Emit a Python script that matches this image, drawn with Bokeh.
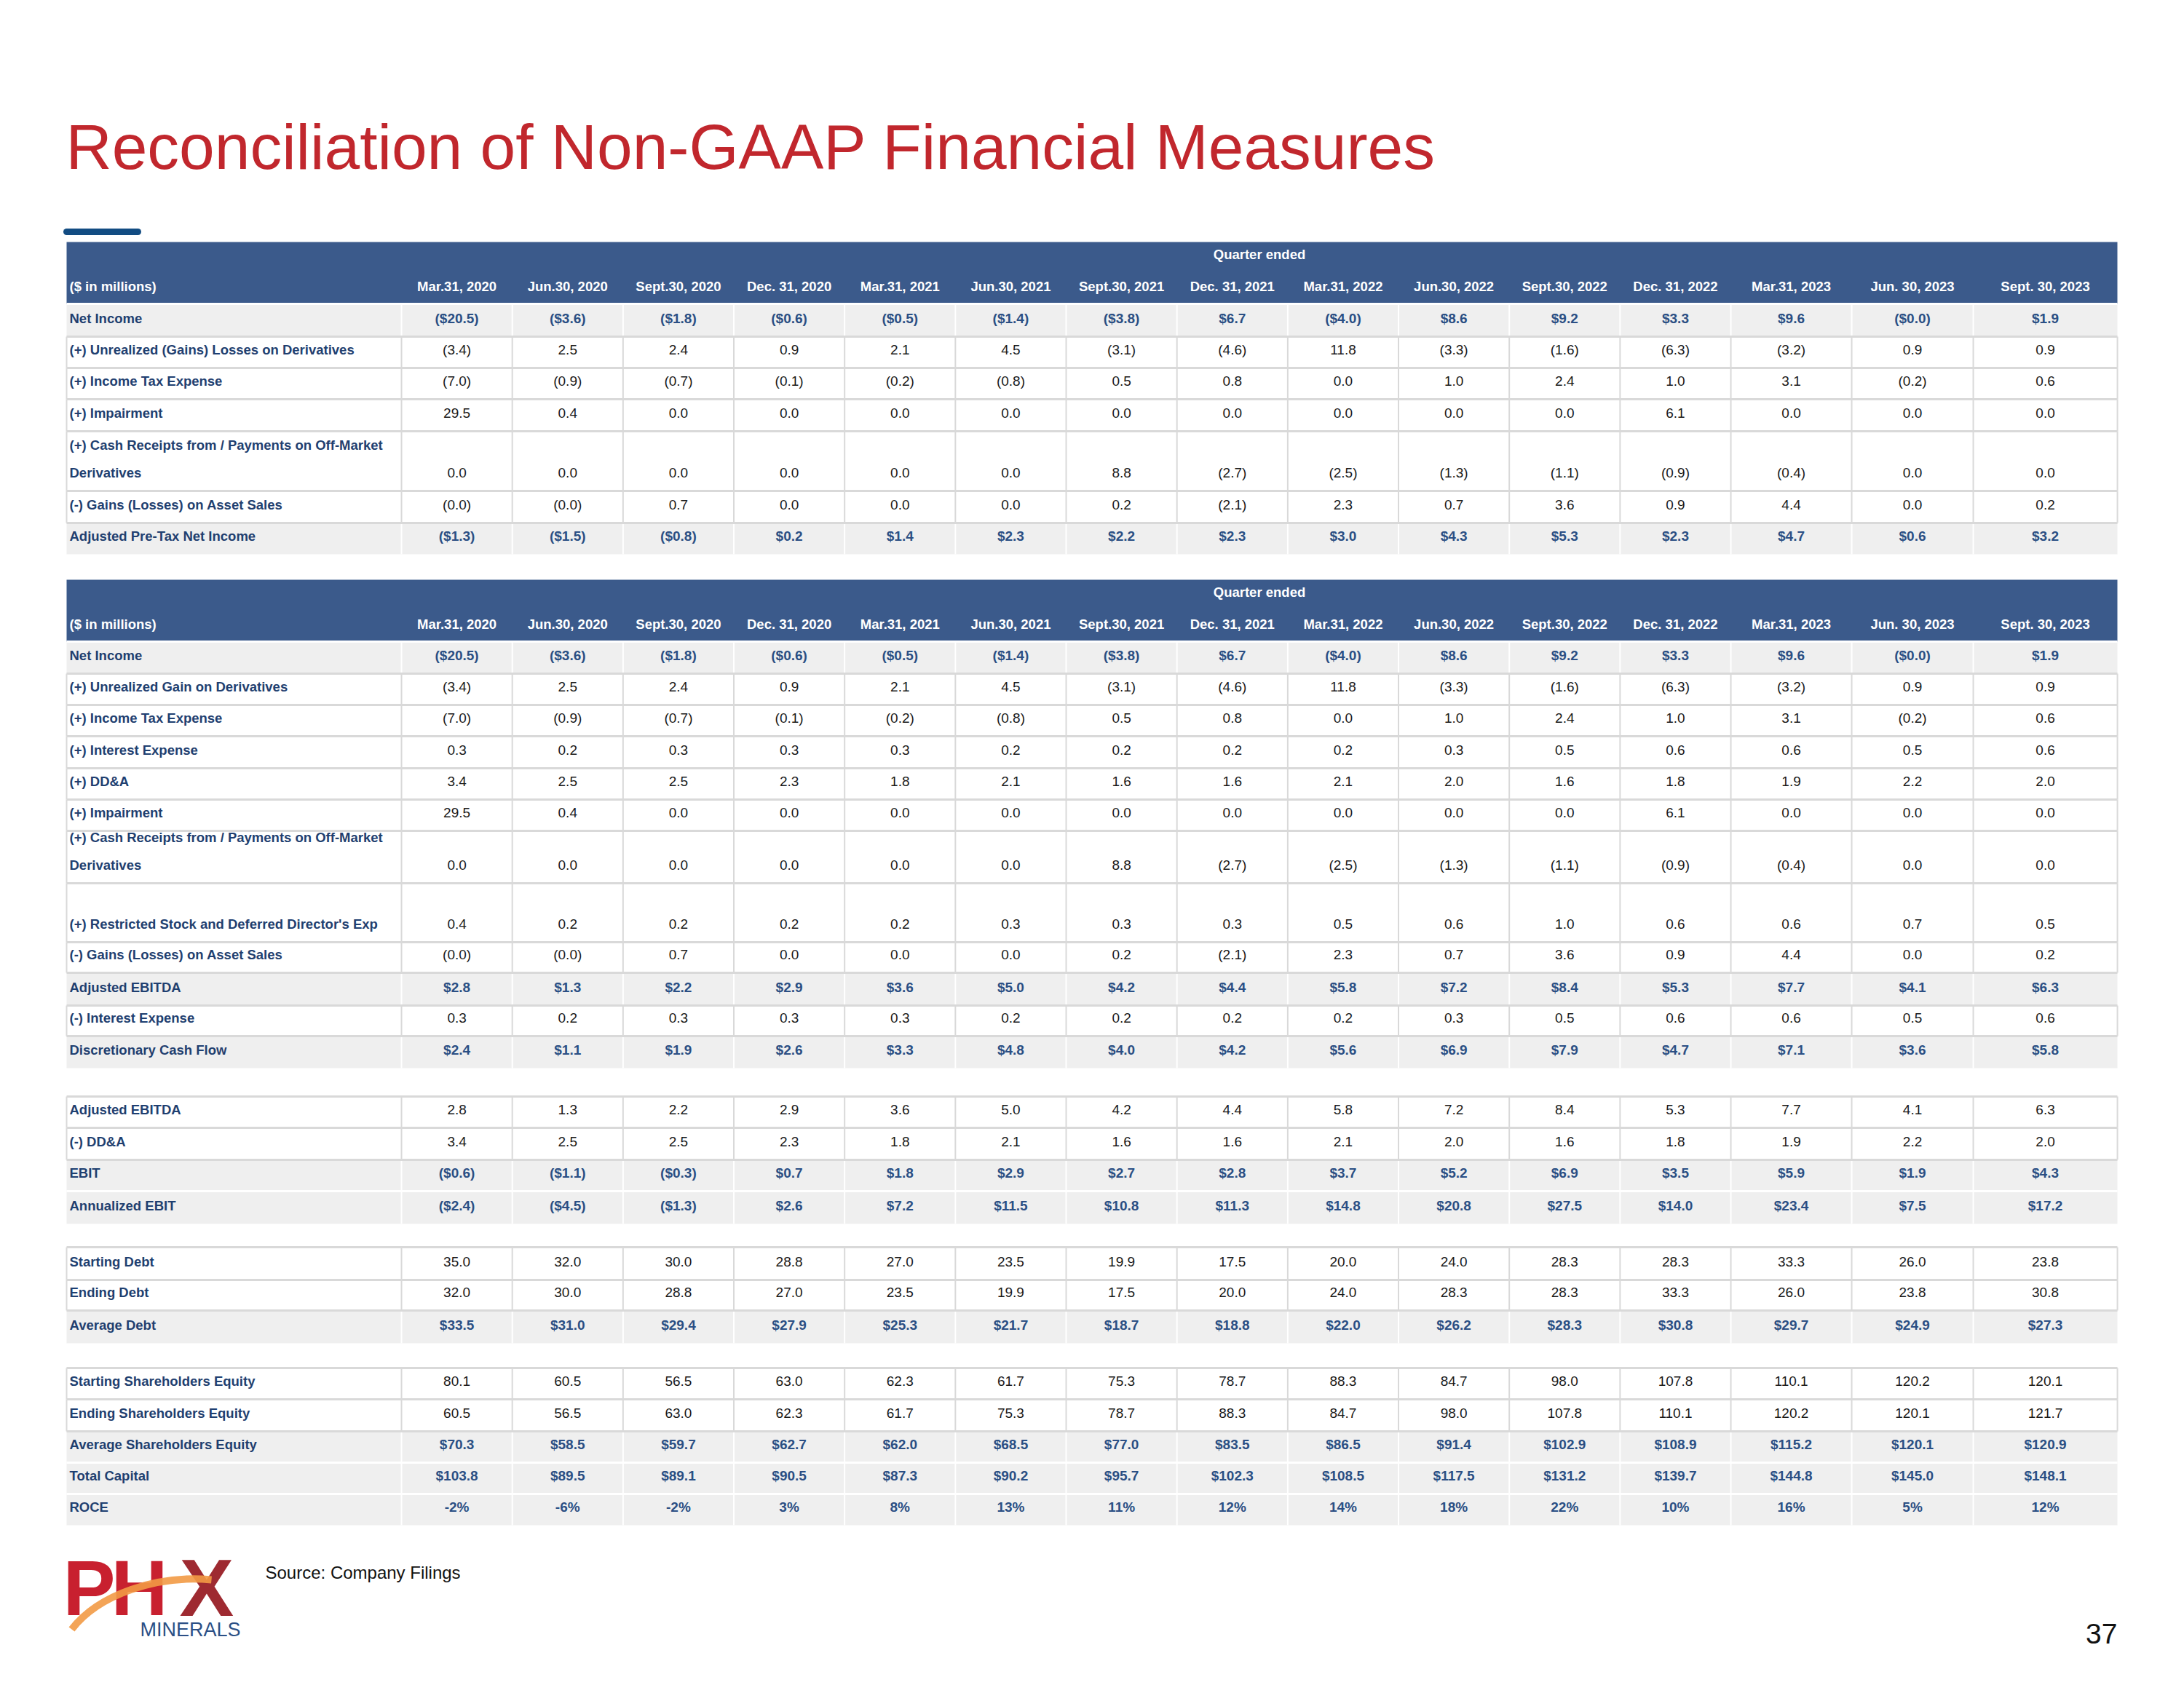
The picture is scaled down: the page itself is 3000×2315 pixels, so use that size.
import math
import numpy as np
from bokeh.plotting import figure
from bokeh.models import Range1d, ColumnDataSource
from bokeh.embed import file_html
from bokeh.resources import INLINE
from bokeh.core.properties import value

# ---------------- data ----------------
quarters = ["Mar.31, 2020", "Jun.30, 2020", "Sept.30, 2020", "Dec. 31, 2020",
            "Mar.31, 2021", "Jun.30, 2021", "Sept.30, 2021", "Dec. 31, 2021",
            "Mar.31, 2022", "Jun.30, 2022", "Sept.30, 2022", "Dec. 31, 2022",
            "Mar.31, 2023", "Jun. 30, 2023", "Sept. 30, 2023"]

net_income = [-20.5, -3.6, -1.8, -0.6, -0.5, -1.4, -3.8, 6.7, -4.0, 8.6, 9.2, 3.3, 9.6, -0.0, 1.9]
unrealized = [-3.4, 2.5, 2.4, 0.9, 2.1, 4.5, -3.1, -4.6, 11.8, -3.3, -1.6, -6.3, -3.2, 0.9, 0.9]
income_tax = [-7.0, -0.9, -0.7, -0.1, -0.2, -0.8, 0.5, 0.8, 0.0, 1.0, 2.4, 1.0, 3.1, -0.2, 0.6]
impairment = [29.5, 0.4, 0.0, 0.0, 0.0, 0.0, 0.0, 0.0, 0.0, 0.0, 0.0, 6.1, 0.0, 0.0, 0.0]
cash_receipts = [0.0, 0.0, 0.0, 0.0, 0.0, 0.0, 8.8, -2.7, -2.5, -1.3, -1.1, -0.9, -0.4, 0.0, 0.0]
asset_sales = [-0.0, -0.0, 0.7, 0.0, 0.0, 0.0, 0.2, -2.1, 2.3, 0.7, 3.6, 0.9, 4.4, 0.0, 0.2]
adj_pretax = [-1.3, -1.5, -0.8, 0.2, 1.4, 2.3, 2.2, 2.3, 3.0, 4.3, 5.3, 2.3, 4.7, 0.6, 3.2]

interest = [0.3, 0.2, 0.3, 0.3, 0.3, 0.2, 0.2, 0.2, 0.2, 0.3, 0.5, 0.6, 0.6, 0.5, 0.6]
dda = [3.4, 2.5, 2.5, 2.3, 1.8, 2.1, 1.6, 1.6, 2.1, 2.0, 1.6, 1.8, 1.9, 2.2, 2.0]
restricted = [0.4, 0.2, 0.2, 0.2, 0.2, 0.3, 0.3, 0.3, 0.5, 0.6, 1.0, 0.6, 0.6, 0.7, 0.5]
adj_ebitda = [2.8, 1.3, 2.2, 2.9, 3.6, 5.0, 4.2, 4.4, 5.8, 7.2, 8.4, 5.3, 7.7, 4.1, 6.3]
dcf = [2.4, 1.1, 1.9, 2.6, 3.3, 4.8, 4.0, 4.2, 5.6, 6.9, 7.9, 4.7, 7.1, 3.6, 5.8]

ebit = [-0.6, -1.1, -0.3, 0.7, 1.8, 2.9, 2.7, 2.8, 3.7, 5.2, 6.9, 3.5, 5.9, 1.9, 4.3]
annual_ebit = [-2.4, -4.5, -1.3, 2.6, 7.2, 11.5, 10.8, 11.3, 14.8, 20.8, 27.5, 14.0, 23.4, 7.5, 17.2]

start_debt = [35.0, 32.0, 30.0, 28.8, 27.0, 23.5, 19.9, 17.5, 20.0, 24.0, 28.3, 28.3, 33.3, 26.0, 23.8]
end_debt = [32.0, 30.0, 28.8, 27.0, 23.5, 19.9, 17.5, 20.0, 24.0, 28.3, 28.3, 33.3, 26.0, 23.8, 30.8]
avg_debt = [33.5, 31.0, 29.4, 27.9, 25.3, 21.7, 18.7, 18.8, 22.0, 26.2, 28.3, 30.8, 29.7, 24.9, 27.3]

start_equity = [80.1, 60.5, 56.5, 63.0, 62.3, 61.7, 75.3, 78.7, 88.3, 84.7, 98.0, 107.8, 110.1, 120.2, 120.1]
end_equity = [60.5, 56.5, 63.0, 62.3, 61.7, 75.3, 78.7, 88.3, 84.7, 98.0, 107.8, 110.1, 120.2, 120.1, 121.7]
avg_equity = [70.3, 58.5, 59.7, 62.7, 62.0, 68.5, 77.0, 83.5, 86.5, 91.4, 102.9, 108.9, 115.2, 120.1, 120.9]
total_capital = [103.8, 89.5, 89.1, 90.5, 87.3, 90.2, 95.7, 102.3, 108.5, 117.5, 131.2, 139.7, 144.8, 145.0, 148.1]
roce_pct = [-2, -6, -2, 3, 8, 13, 11, 12, 14, 18, 22, 10, 16, 5, 12]


def is_neg(v):
    return math.copysign(1.0, v) < 0


def f_num(v):
    s = f"{abs(v):.1f}"
    return f"({s})" if is_neg(v) else s


def f_usd(v):
    s = f"${abs(v):.1f}"
    return f"({s})" if is_neg(v) else s


def f_pct(v):
    return f"{v}%"


CASH_LBL = ["(+) Cash Receipts from / Payments on Off-Market", "Derivatives"]

table1 = [
    (["Net Income"], net_income, f_usd, True),
    (["(+) Unrealized (Gains) Losses on Derivatives"], unrealized, f_num, False),
    (["(+) Income Tax Expense"], income_tax, f_num, False),
    (["(+) Impairment"], impairment, f_num, False),
    (CASH_LBL, cash_receipts, f_num, False),
    (["(-) Gains (Losses) on Asset Sales"], asset_sales, f_num, False),
    (["Adjusted Pre-Tax Net Income"], adj_pretax, f_usd, True),
]
table2 = [
    (["Net Income"], net_income, f_usd, True),
    (["(+) Unrealized Gain on Derivatives"], unrealized, f_num, False),
    (["(+) Income Tax Expense"], income_tax, f_num, False),
    (["(+) Interest Expense"], interest, f_num, False),
    (["(+) DD&A"], dda, f_num, False),
    (["(+) Impairment"], impairment, f_num, False),
    (CASH_LBL, cash_receipts, f_num, False),
    (["(+) Restricted Stock and Deferred Director's Exp"], restricted, f_num, False),
    (["(-) Gains (Losses) on Asset Sales"], asset_sales, f_num, False),
    (["Adjusted EBITDA"], adj_ebitda, f_usd, True),
    (["(-) Interest Expense"], interest, f_num, False),
    (["Discretionary Cash Flow"], dcf, f_usd, True),
]
block3 = [
    (["Adjusted EBITDA"], adj_ebitda, f_num, False),
    (["(-) DD&A"], dda, f_num, False),
    (["EBIT"], ebit, f_usd, True),
    (["Annualized EBIT"], annual_ebit, f_usd, True),
]
block4 = [
    (["Starting Debt"], start_debt, f_num, False),
    (["Ending Debt"], end_debt, f_num, False),
    (["Average Debt"], avg_debt, f_usd, True),
]
block5 = [
    (["Starting Shareholders Equity"], start_equity, f_num, False),
    (["Ending Shareholders Equity"], end_equity, f_num, False),
    (["Average Shareholders Equity"], avg_equity, f_usd, True),
    (["Total Capital"], total_capital, f_usd, True),
    (["ROCE"], roce_pct, f_pct, True),
]

# ---------------- layout / style ----------------
HDR_BG = "#3B5A8B"
GRAY_BG = "#EFEFEF"
BORDER = "#D9D9D9"
LABEL_C = "#1F3F70"
BOLDV_C = "#2B4F84"
REG_C = "#1A1A1A"
TITLE_C = "#C1272D"
SANS = value("Liberation Sans")
FS_LAB = "18.5px"
FS_VAL = "19px"

LEFT, RIGHT = 91, 2908
LABEL_EDGE = 551
col_w = [152.17] * 12 + [166, 167, 198]
edges = np.concatenate([[LABEL_EDGE], LABEL_EDGE + np.cumsum(col_w)])
centers = (edges[:-1] + edges[1:]) / 2
HDR_H = 85

blocks = [
    (332, True, table1, [45, 43, 43, 44, 82, 44, 43]),
    (796, True, table2, [44, 43, 43, 44, 43, 43, 72, 81, 42, 45, 42, 44]),
    (1506, False, block3, [43, 44, 43, 45]),
    (1713, False, block4, [45, 42, 45]),
    (1879, False, block5, [43, 44, 43, 43, 43]),
]

p = figure(width=2984, height=2299, x_range=Range1d(0, 2984), y_range=Range1d(2299, 0),
           output_backend="svg", toolbar_location=None, min_border=0,
           x_axis_type=None, y_axis_type=None)
p.grid.visible = False
p.outline_line_color = None
p.background_fill_color = "white"
p.border_fill_color = "white"

quads = dict(l=[], r=[], t=[], b=[], c=[])
segs = dict(x0=[], y0=[], x1=[], y1=[], c=[], w=[])
texts = {k: dict(x=[], y=[], t=[]) for k in ["hdr_c", "hdr_l", "lab", "boldv", "regv"]}


def add_text(key, x, y, t):
    texts[key]["x"].append(x)
    texts[key]["y"].append(y)
    texts[key]["t"].append(t)


def add_seg(x0, y0, x1, y1, c, w):
    segs["x0"].append(x0); segs["y0"].append(y0)
    segs["x1"].append(x1); segs["y1"].append(y1)
    segs["c"].append(c); segs["w"].append(w)


for top, header, rows, heights in blocks:
    y = top
    if header:
        quads["l"].append(LEFT); quads["r"].append(RIGHT)
        quads["t"].append(y); quads["b"].append(y + HDR_H); quads["c"].append(HDR_BG)
        add_text("hdr_c", (LABEL_EDGE + RIGHT) / 2, y + 17, "Quarter ended")
        add_text("hdr_l", LEFT + 4, y + 61, "($ in millions)")
        for cx, q in zip(centers, quarters):
            add_text("hdr_c", cx, y + 61, q)
        y += HDR_H
        prev_gray = None
    else:
        prev_gray = False
    for (lines, vals, fmt, bold), h in zip(rows, heights):
        bottom = y + h
        fill = GRAY_BG if bold else "white"
        quads["l"].append(LEFT); quads["r"].append(RIGHT)
        quads["t"].append(y); quads["b"].append(bottom); quads["c"].append(fill)
        vcol = "white" if bold else BORDER
        xs = list(edges[:-1]) if bold else [LEFT] + list(edges)
        for xv in xs:
            add_seg(xv, y, xv, bottom, vcol, 2)
        if prev_gray is None:
            add_seg(LEFT, y, RIGHT, y, "white", 3)
        elif prev_gray and bold:
            add_seg(LEFT, y, RIGHT, y, "white", 3)
        else:
            add_seg(LEFT, y, RIGHT, y, BORDER, 3)
        ty = bottom - 25
        for i, ln in enumerate(lines):
            add_text("lab", LEFT + 4, ty - 38 * (len(lines) - 1 - i), ln)
        key = "boldv" if bold else "regv"
        for cx, v in zip(centers, vals):
            add_text(key, cx, ty, fmt(v))
        prev_gray = bold
        y = bottom

p.quad(left="l", right="r", top="t", bottom="b", fill_color="c", line_color=None,
       source=ColumnDataSource(quads))
p.segment(x0="x0", y0="y0", x1="x1", y1="y1", line_color="c", line_width="w",
          source=ColumnDataSource(segs))

styles = {
    "hdr_c": ("white", "bold", "center", FS_LAB),
    "hdr_l": ("white", "bold", "left", FS_LAB),
    "lab": (LABEL_C, "bold", "left", FS_LAB),
    "boldv": (BOLDV_C, "bold", "center", FS_VAL),
    "regv": (REG_C, "normal", "center", FS_VAL),
}
for k, (col, st, al, fs) in styles.items():
    p.text(x="x", y="y", text="t", source=ColumnDataSource(texts[k]), text_color=col,
           text_font=SANS, text_font_style=st, text_align=al, text_baseline="middle",
           text_font_size=fs)

# title and accent
p.text(x=[90], y=[201], text=["Reconciliation of Non-GAAP Financial Measures"],
       text_color=TITLE_C, text_font=SANS, text_font_size="87.5px",
       text_baseline="middle", text_align="left")
p.segment(x0=[91], y0=[318], x1=[189], y1=[318], line_color="#124C82", line_width=9,
          line_cap="round")

# footer
p.text(x=[364], y=[2160], text=["Source: Company Filings"], text_color="#111111",
       text_font=SANS, text_font_size="24px", text_baseline="middle")
p.text(x=[2908], y=[2244], text=["37"], text_color="#111111", text_font=SANS,
       text_font_size="39px", text_baseline="middle", text_align="right")

# logo
for lx, letter, col, fs in [(86, "P", "#C8202F", "108px"), (152, "H", "#C8202F", "108px"),
                            (246, "X", "#9E2A31", "112px")]:
    p.text(x=[lx], y=[2181], text=[letter], text_color=col, text_font=SANS,
           text_font_style="bold", text_font_size=fs, text_baseline="middle")
p.bezier(x0=[98], y0=[2238], x1=[290], y1=[2170], cx0=[135], cy0=[2190],
         cx1=[215], cy1=[2163], line_color="#F29A45", line_width=10, line_alpha=0.9)
p.text(x=[192], y=[2238], text=["MINERALS"], text_color="#2B4F85", text_font=SANS,
       text_font_size="27px", text_baseline="middle")

open("out.html", "w").write(file_html(p, INLINE))
